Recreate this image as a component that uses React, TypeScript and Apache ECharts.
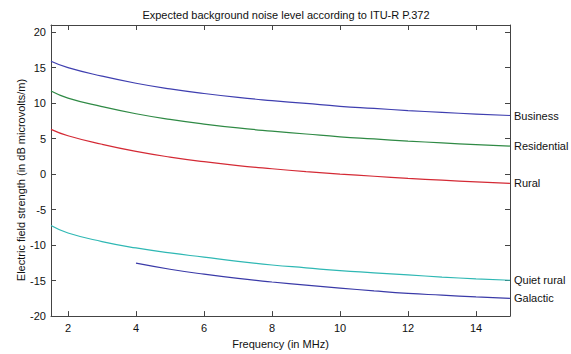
import React, { useEffect, useRef } from "react";
import * as echarts from "echarts";

const freqs = [1.5, 2, 3, 4, 5, 6, 7, 8, 9, 10, 11, 12, 13, 14, 15];
const business = [15.9, 15.0, 13.8, 12.8, 12.0, 11.35, 10.8, 10.35, 9.95, 9.55, 9.25, 8.95, 8.7, 8.45, 8.25];
const residential = [11.7, 10.7, 9.5, 8.5, 7.7, 7.05, 6.5, 6.05, 5.65, 5.25, 4.95, 4.65, 4.4, 4.15, 3.95];
const rural = [6.3, 5.4, 4.2, 3.2, 2.4, 1.75, 1.2, 0.75, 0.35, 0.0, -0.3, -0.6, -0.85, -1.1, -1.3];
const quietRural = [-7.25, -8.3, -9.5, -10.4, -11.1, -11.7, -12.3, -12.8, -13.2, -13.6, -13.9, -14.2, -14.5, -14.75, -14.95];
const galacticFreqs = [4, 5, 6, 7, 8, 9, 10, 11, 12, 13, 14, 15];
const galactic = [-12.55, -13.4, -14.1, -14.7, -15.2, -15.65, -16.05, -16.45, -16.8, -17.05, -17.3, -17.5];
const xTicks = [2, 4, 6, 8, 10, 12, 14];

const seriesDefs = [
  { name: "Business", x: freqs, y: business, color: "#3f3fb0" },
  { name: "Residential", x: freqs, y: residential, color: "#2f8a45" },
  { name: "Rural", x: freqs, y: rural, color: "#d42a35" },
  { name: "Quiet rural", x: freqs, y: quietRural, color: "#2fb8b4" },
  { name: "Galactic", x: galacticFreqs, y: galactic, color: "#3a3aa8" },
];

const FONT = "'Liberation Sans', Arial, sans-serif";
const AXIS_COLOR = "#444";

export default function App() {
  const ref = useRef<HTMLDivElement>(null);
  useEffect(() => {
    document.body.style.margin = "0";
    const chart = echarts.init(ref.current!, null, { renderer: "svg" });
    const baseX = {
      type: "value" as const,
      min: 1.5,
      max: 15,
      splitLine: { show: false },
      axisLine: { show: true, onZero: false, lineStyle: { color: AXIS_COLOR, width: 1 } },
      axisTick: { show: true, inside: true, length: 5, lineStyle: { color: AXIS_COLOR } },
    };
    const baseY = {
      type: "value" as const,
      min: -20,
      max: 21,
      interval: 5,
      splitLine: { show: false },
      axisLine: { show: true, onZero: false, lineStyle: { color: AXIS_COLOR, width: 1 } },
      axisTick: { show: true, inside: true, length: 5, lineStyle: { color: AXIS_COLOR } },
    };
    chart.setOption({
      animation: false,
      backgroundColor: "#fff",
      title: {
        text: "Expected background noise level according to ITU-R P.372",
        left: 281,
        textAlign: "center",
        top: 4,
        textStyle: { fontFamily: FONT, fontSize: 11, fontWeight: "normal", color: "#111" },
      },
      grid: { left: 51, right: 61, top: 25, bottom: 35, containLabel: false },
      graphic: [
        {
          type: "text",
          x: 21,
          y: 180,
          rotation: Math.PI / 2,
          style: {
            text: "Electric field strength (in dB microvolts/m)",
            fontFamily: FONT,
            fontSize: 11,
            fill: "#111",
            textAlign: "center",
            textVerticalAlign: "middle",
          },
        },
      ],
      xAxis: [
        {
          ...baseX,
          position: "bottom",
          name: "Frequency (in MHz)",
          nameLocation: "middle",
          nameGap: 20,
          nameTextStyle: { fontFamily: FONT, fontSize: 11, color: "#111" },
          axisTick: { ...baseX.axisTick, customValues: xTicks },
          axisLabel: { customValues: xTicks, fontFamily: FONT, fontSize: 11, color: "#111", margin: 6 },
        },
        {
          ...baseX,
          position: "top",
          axisTick: { ...baseX.axisTick, customValues: xTicks },
          axisLabel: { show: false, customValues: xTicks },
        },
      ],
      yAxis: [
        {
          ...baseY,
          position: "left",
          axisLabel: { fontFamily: FONT, fontSize: 11, color: "#111", margin: 5 },
        },
        {
          ...baseY,
          position: "right",
          axisLabel: { show: false },
        },
      ],
      series: seriesDefs.map((s) => ({
        type: "line",
        name: s.name,
        data: s.x.map((f, i) => [f, s.y[i]]),
        smooth: true,
        showSymbol: false,
        symbol: "none",
        lineStyle: { color: s.color, width: 1.2 },
        itemStyle: { color: s.color },
        clip: false,
        endLabel: {
          show: true,
          formatter: s.name,
          distance: 4,
          fontFamily: FONT,
          fontSize: 11,
          color: "#111",
        },
      })),
    });
    return () => chart.dispose();
  }, []);
  return <div ref={ref} style={{ width: 571, height: 354 }} />;
}
